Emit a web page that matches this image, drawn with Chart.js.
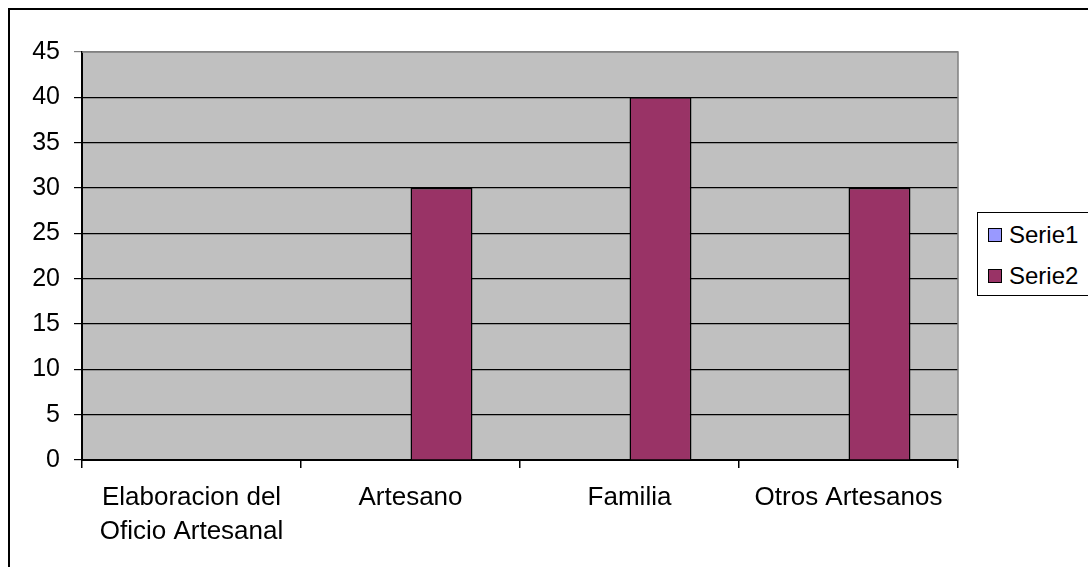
<!DOCTYPE html>
<html>
<head>
<meta charset="utf-8">
<script src="https://cdn.jsdelivr.net/npm/chart.js@4"></script>
<style>
  html, body { margin: 0; padding: 0; background: #fff; overflow: hidden; }
  #wrap { position: relative; width: 1088px; height: 567px; }
  #frame { position: absolute; left: 8px; top: 8px; width: 1100px; height: 600px; border: 2px solid #000; box-sizing: border-box; }
  #chart { position: absolute; left: 0; top: 0; }
  #legend {
    position: absolute; left: 977px; top: 212px; width: 130px; height: 84px;
    border: 1.5px solid #000; box-sizing: border-box; background: #fff;
    font-family: "Liberation Sans", Arial, sans-serif; font-size: 24px; color: #000;
  }
  .legend_item { position: absolute; left: 10px; height: 28px; line-height: 28px; white-space: nowrap; }
  .legend_swatch { display: inline-block; width: 12px; height: 12px; border: 1.5px solid #000; vertical-align: middle; margin-right: 7px; position: relative; top: -2px; }
</style>
</head>
<body>
<div id="wrap">
  <div id="frame"></div>
  <canvas id="chart" width="1088" height="567"></canvas>
  <div id="legend"></div>
</div>
<script>
const categories = [["Elaboracion del", "Oficio Artesanal"], "Artesano", "Familia", "Otros Artesanos"];
const serie1 = [null, null, null, null];
const serie2 = [null, 30, 40, 30];
const seriesNames = ["Serie1", "Serie2"];
const seriesColors = ["#9999FF", "#993366"];
const yMax = 45;
const yStep = 5;

const fontFamily = '"Liberation Sans", Arial, sans-serif';

// gray plot background + gray frame on top/right, like the old Excel look
const plotBackground = {
  id: 'plotBackground',
  beforeDraw: (chart) => {
    const { ctx, chartArea } = chart;
    ctx.save();
    ctx.fillStyle = '#C0C0C0';
    ctx.fillRect(chartArea.left, chartArea.top, chartArea.right - chartArea.left, chartArea.bottom - chartArea.top);
    ctx.restore();
  },
  afterDatasetsDraw: (chart) => {
    const { ctx, chartArea } = chart;
    ctx.save();
    ctx.strokeStyle = '#808080';
    ctx.lineWidth = 1.5;
    ctx.beginPath();
    ctx.moveTo(chartArea.left, chartArea.top);
    ctx.lineTo(chartArea.right, chartArea.top);
    ctx.lineTo(chartArea.right, chartArea.bottom);
    ctx.stroke();
    ctx.restore();
  }
};

const datasets = [serie1, serie2].map((values, i) => ({
  label: seriesNames[i],
  data: values,
  backgroundColor: seriesColors[i],
  borderColor: '#000',
  borderWidth: 1.5,
  borderSkipped: 'start',
  categoryPercentage: 0.566,
  barPercentage: 1.0
}));

const canvas = document.getElementById('chart');

new Chart(canvas, {
  type: 'bar',
  data: { labels: categories, datasets: datasets },
  options: {
    responsive: false,
    animation: false,
    layout: { padding: { top: 52, right: 130, left: 0, bottom: 0 } },
    plugins: {
      legend: { display: false },
      tooltip: { enabled: false }
    },
    scales: {
      x: {
        afterFit: (scale) => { scale.height = 107; },
        border: { display: true, color: '#000', width: 2 },
        grid: {
          offset: true,
          drawOnChartArea: false,
          drawTicks: true,
          tickLength: 8,
          color: '#000',
          lineWidth: 1.5
        },
        ticks: {
          color: '#000',
          padding: 13,
          maxRotation: 0,
          autoSkip: false,
          font: { family: fontFamily, size: 26, lineHeight: 1.31 }
        }
      },
      y: {
        min: 0,
        max: yMax,
        afterFit: (scale) => { scale.width = 82; },
        border: { display: true, color: '#000', width: 2 },
        grid: {
          drawTicks: true,
          tickLength: 8,
          color: (ctx) => (ctx.tick && ctx.tick.value === yMax) ? '#808080' : '#000',
          lineWidth: 1.2
        },
        ticks: {
          stepSize: yStep,
          color: '#000',
          padding: 14,
          font: { family: fontFamily, size: 25 }
        }
      }
    }
  },
  plugins: [plotBackground]
});

// simple boxed legend on the right
const legendElem = document.getElementById('legend');
seriesNames.forEach((name, i) => {
  const item = document.createElement('div');
  item.className = 'legend_item';
  item.style.top = (i === 0 ? 8 : 49) + 'px';

  const swatch = document.createElement('span');
  swatch.className = 'legend_swatch';
  swatch.style.background = seriesColors[i];

  item.appendChild(swatch);
  item.appendChild(document.createTextNode(name));
  legendElem.appendChild(item);
});
</script>
</body>
</html>
